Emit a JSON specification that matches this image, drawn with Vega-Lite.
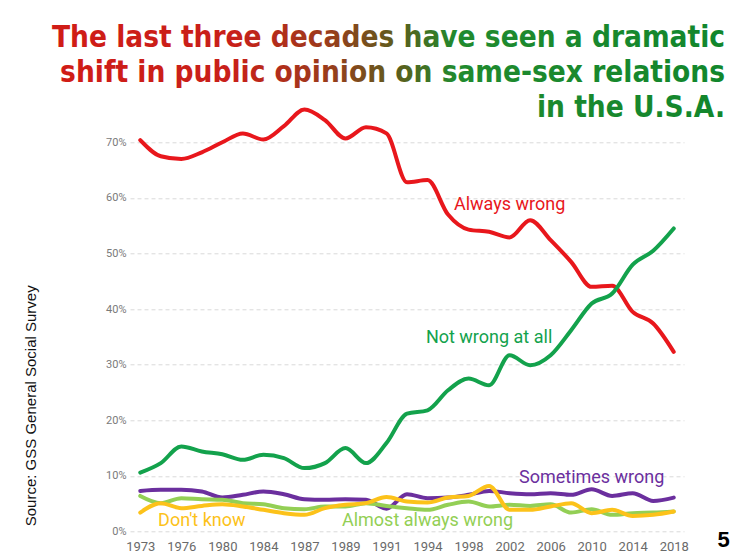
{
  "$schema": "https://vega.github.io/schema/vega-lite/v6.json",
  "autosize": "none",
  "width": 554,
  "height": 389.2,
  "padding": {"left": 130, "top": 142.3, "right": 67, "bottom": 28.5},
  "background": "white",
  "title": {
    "text": ["The last three decades have seen a dramatic", "shift in public opinion on same-sex relations", "in the U.S.A."],
    "anchor": "end",
    "align": "right",
    "frame": "group",
    "font": "Liberation Sans Narrow, DejaVu Sans Condensed, Roboto",
    "fontSize": 29.5,
    "fontWeight": "bold",
    "lineHeight": 35,
    "dx": 41,
    "dy": 36,
    "offset": 20,
    "color": "#1f8a2e",
    "encoding": {
      "fill": {"value": {"gradient": "linear", "x1": 0, "x2": 1, "y1": 0, "y2": 0, "stops": [
        {"offset": 0, "color": "#d01c16"},
        {"offset": 0.27, "color": "#c8201a"},
        {"offset": 0.41, "color": "#9a3c1c"},
        {"offset": 0.52, "color": "#58601e"},
        {"offset": 0.6, "color": "#218a2e"},
        {"offset": 1, "color": "#12862c"}
      ]}}
    }
  },
  "datasets": {
    "series": [
      {"year": 1973, "series": "Always wrong", "value": 70.4},
      {"year": 1974, "series": "Always wrong", "value": 67.5},
      {"year": 1976, "series": "Always wrong", "value": 67.0},
      {"year": 1977, "series": "Always wrong", "value": 68.2},
      {"year": 1980, "series": "Always wrong", "value": 70.0},
      {"year": 1982, "series": "Always wrong", "value": 71.6},
      {"year": 1984, "series": "Always wrong", "value": 70.5},
      {"year": 1985, "series": "Always wrong", "value": 72.9},
      {"year": 1987, "series": "Always wrong", "value": 75.9},
      {"year": 1988, "series": "Always wrong", "value": 74.0},
      {"year": 1989, "series": "Always wrong", "value": 70.7},
      {"year": 1990, "series": "Always wrong", "value": 72.7},
      {"year": 1991, "series": "Always wrong", "value": 71.6},
      {"year": 1993, "series": "Always wrong", "value": 62.8},
      {"year": 1994, "series": "Always wrong", "value": 63.2},
      {"year": 1996, "series": "Always wrong", "value": 57.0},
      {"year": 1998, "series": "Always wrong", "value": 54.3},
      {"year": 2000, "series": "Always wrong", "value": 53.9},
      {"year": 2002, "series": "Always wrong", "value": 52.9},
      {"year": 2004, "series": "Always wrong", "value": 56.0},
      {"year": 2006, "series": "Always wrong", "value": 52.4},
      {"year": 2008, "series": "Always wrong", "value": 48.5},
      {"year": 2010, "series": "Always wrong", "value": 44.0},
      {"year": 2012, "series": "Always wrong", "value": 44.2},
      {"year": 2014, "series": "Always wrong", "value": 39.5},
      {"year": 2016, "series": "Always wrong", "value": 37.4},
      {"year": 2018, "series": "Always wrong", "value": 32.3},
      {"year": 1973, "series": "Not wrong at all", "value": 10.6},
      {"year": 1974, "series": "Not wrong at all", "value": 12.3},
      {"year": 1976, "series": "Not wrong at all", "value": 15.3},
      {"year": 1977, "series": "Not wrong at all", "value": 14.4},
      {"year": 1980, "series": "Not wrong at all", "value": 13.9},
      {"year": 1982, "series": "Not wrong at all", "value": 12.9},
      {"year": 1984, "series": "Not wrong at all", "value": 13.8},
      {"year": 1985, "series": "Not wrong at all", "value": 13.2},
      {"year": 1987, "series": "Not wrong at all", "value": 11.4},
      {"year": 1988, "series": "Not wrong at all", "value": 12.3},
      {"year": 1989, "series": "Not wrong at all", "value": 15.0},
      {"year": 1990, "series": "Not wrong at all", "value": 12.3},
      {"year": 1991, "series": "Not wrong at all", "value": 15.9},
      {"year": 1993, "series": "Not wrong at all", "value": 21.2},
      {"year": 1994, "series": "Not wrong at all", "value": 21.8},
      {"year": 1996, "series": "Not wrong at all", "value": 25.4},
      {"year": 1998, "series": "Not wrong at all", "value": 27.5},
      {"year": 2000, "series": "Not wrong at all", "value": 26.3},
      {"year": 2002, "series": "Not wrong at all", "value": 31.7},
      {"year": 2004, "series": "Not wrong at all", "value": 29.9},
      {"year": 2006, "series": "Not wrong at all", "value": 31.7},
      {"year": 2008, "series": "Not wrong at all", "value": 36.2},
      {"year": 2010, "series": "Not wrong at all", "value": 41.0},
      {"year": 2012, "series": "Not wrong at all", "value": 42.8},
      {"year": 2014, "series": "Not wrong at all", "value": 48.0},
      {"year": 2016, "series": "Not wrong at all", "value": 50.5},
      {"year": 2018, "series": "Not wrong at all", "value": 54.5},
      {"year": 1973, "series": "Sometimes wrong", "value": 7.3},
      {"year": 1974, "series": "Sometimes wrong", "value": 7.5},
      {"year": 1976, "series": "Sometimes wrong", "value": 7.5},
      {"year": 1977, "series": "Sometimes wrong", "value": 7.2},
      {"year": 1980, "series": "Sometimes wrong", "value": 6.1},
      {"year": 1982, "series": "Sometimes wrong", "value": 6.6},
      {"year": 1984, "series": "Sometimes wrong", "value": 7.2},
      {"year": 1985, "series": "Sometimes wrong", "value": 6.7},
      {"year": 1987, "series": "Sometimes wrong", "value": 5.8},
      {"year": 1988, "series": "Sometimes wrong", "value": 5.7},
      {"year": 1989, "series": "Sometimes wrong", "value": 5.8},
      {"year": 1990, "series": "Sometimes wrong", "value": 5.7},
      {"year": 1991, "series": "Sometimes wrong", "value": 4.1},
      {"year": 1993, "series": "Sometimes wrong", "value": 6.7},
      {"year": 1994, "series": "Sometimes wrong", "value": 6.0},
      {"year": 1996, "series": "Sometimes wrong", "value": 6.1},
      {"year": 1998, "series": "Sometimes wrong", "value": 6.6},
      {"year": 2000, "series": "Sometimes wrong", "value": 7.3},
      {"year": 2002, "series": "Sometimes wrong", "value": 6.9},
      {"year": 2004, "series": "Sometimes wrong", "value": 6.7},
      {"year": 2006, "series": "Sometimes wrong", "value": 6.9},
      {"year": 2008, "series": "Sometimes wrong", "value": 6.6},
      {"year": 2010, "series": "Sometimes wrong", "value": 7.6},
      {"year": 2012, "series": "Sometimes wrong", "value": 6.4},
      {"year": 2014, "series": "Sometimes wrong", "value": 6.9},
      {"year": 2016, "series": "Sometimes wrong", "value": 5.5},
      {"year": 2018, "series": "Sometimes wrong", "value": 6.1},
      {"year": 1973, "series": "Almost always wrong", "value": 6.4},
      {"year": 1974, "series": "Almost always wrong", "value": 5.1},
      {"year": 1976, "series": "Almost always wrong", "value": 6.0},
      {"year": 1977, "series": "Almost always wrong", "value": 5.8},
      {"year": 1980, "series": "Almost always wrong", "value": 5.7},
      {"year": 1982, "series": "Almost always wrong", "value": 5.1},
      {"year": 1984, "series": "Almost always wrong", "value": 4.9},
      {"year": 1985, "series": "Almost always wrong", "value": 4.2},
      {"year": 1987, "series": "Almost always wrong", "value": 4.0},
      {"year": 1988, "series": "Almost always wrong", "value": 4.5},
      {"year": 1989, "series": "Almost always wrong", "value": 4.5},
      {"year": 1990, "series": "Almost always wrong", "value": 5.1},
      {"year": 1991, "series": "Almost always wrong", "value": 4.6},
      {"year": 1993, "series": "Almost always wrong", "value": 4.2},
      {"year": 1994, "series": "Almost always wrong", "value": 3.9},
      {"year": 1996, "series": "Almost always wrong", "value": 4.8},
      {"year": 1998, "series": "Almost always wrong", "value": 5.4},
      {"year": 2000, "series": "Almost always wrong", "value": 4.5},
      {"year": 2002, "series": "Almost always wrong", "value": 4.8},
      {"year": 2004, "series": "Almost always wrong", "value": 4.6},
      {"year": 2006, "series": "Almost always wrong", "value": 4.9},
      {"year": 2008, "series": "Almost always wrong", "value": 3.4},
      {"year": 2010, "series": "Almost always wrong", "value": 4.0},
      {"year": 2012, "series": "Almost always wrong", "value": 3.0},
      {"year": 2014, "series": "Almost always wrong", "value": 3.3},
      {"year": 2016, "series": "Almost always wrong", "value": 3.4},
      {"year": 2018, "series": "Almost always wrong", "value": 3.6},
      {"year": 1973, "series": "Don't know", "value": 3.4},
      {"year": 1974, "series": "Don't know", "value": 5.1},
      {"year": 1976, "series": "Don't know", "value": 4.2},
      {"year": 1977, "series": "Don't know", "value": 4.6},
      {"year": 1980, "series": "Don't know", "value": 4.9},
      {"year": 1982, "series": "Don't know", "value": 4.5},
      {"year": 1984, "series": "Don't know", "value": 3.9},
      {"year": 1985, "series": "Don't know", "value": 3.3},
      {"year": 1987, "series": "Don't know", "value": 3.0},
      {"year": 1988, "series": "Don't know", "value": 4.2},
      {"year": 1989, "series": "Don't know", "value": 4.8},
      {"year": 1990, "series": "Don't know", "value": 5.1},
      {"year": 1991, "series": "Don't know", "value": 6.2},
      {"year": 1993, "series": "Don't know", "value": 5.4},
      {"year": 1994, "series": "Don't know", "value": 5.2},
      {"year": 1996, "series": "Don't know", "value": 6.1},
      {"year": 1998, "series": "Don't know", "value": 6.4},
      {"year": 2000, "series": "Don't know", "value": 8.2},
      {"year": 2002, "series": "Don't know", "value": 3.9},
      {"year": 2004, "series": "Don't know", "value": 3.9},
      {"year": 2006, "series": "Don't know", "value": 4.5},
      {"year": 2008, "series": "Don't know", "value": 5.1},
      {"year": 2010, "series": "Don't know", "value": 3.3},
      {"year": 2012, "series": "Don't know", "value": 3.9},
      {"year": 2014, "series": "Don't know", "value": 2.8},
      {"year": 2016, "series": "Don't know", "value": 3.0},
      {"year": 2018, "series": "Don't know", "value": 3.6}
    ],
    "labels": [
      {"year": 2002, "series": "Always wrong", "value": 58.7},
      {"year": 2000, "series": "Not wrong at all", "value": 34.8},
      {"year": 2010, "series": "Sometimes wrong", "value": 9.6},
      {"year": 1994, "series": "Almost always wrong", "value": 1.9},
      {"year": 1977, "series": "Don't know", "value": 1.9}
    ]
  },
  "encoding": {
    "x": {
      "field": "year",
      "type": "ordinal",
      "sort": null,
      "scale": {"type": "point", "padding": 0.5, "domain": [1973,1974,1976,1977,1980,1982,1984,1985,1987,1988,1989,1990,1991,1993,1994,1996,1998,2000,2002,2004,2006,2008,2010,2012,2014,2016,2018]},
      "axis": {
        "values": [1973,1976,1980,1984,1987,1989,1991,1994,1998,2002,2006,2010,2014,2018],
        "labelAngle": 0,
        "labelFont": "Roboto",
        "labelFontSize": 13,
        "labelColor": "#6a6a6a",
        "labelPadding": 9,
        "domain": false,
        "ticks": false,
        "grid": false,
        "title": "5",
        "titleFont": "Liberation Sans",
        "titleFontSize": 22,
        "titleFontWeight": "bold",
        "titleColor": "#000000",
        "titleX": 593,
        "titleY": 7.5,
        "titleAngle": 0,
        "titleAlign": "center",
        "titleBaseline": "middle"
      }
    },
    "y": {
      "field": "value",
      "type": "quantitative",
      "scale": {"domain": [0, 70], "nice": false, "zero": true},
      "axis": {
        "values": [0, 10, 20, 30, 40, 50, 60, 70],
        "labelExpr": "datum.value + '%'",
        "labelFont": "Roboto",
        "labelFontSize": 11,
        "labelColor": "#7a7a7a",
        "labelPadding": 4,
        "domain": false,
        "ticks": false,
        "grid": true,
        "gridColor": "#d9d9d9",
        "gridDash": [4, 3],
        "gridWidth": 1,
        "title": "Source: GSS General Social Survey",
        "titleFont": "Liberation Sans",
        "titleFontSize": 15,
        "titleFontWeight": "normal",
        "titleColor": "#111111",
        "titleX": -100,
        "titleY": 263,
        "titleAngle": -90,
        "titleAlign": "center",
        "titleBaseline": "middle"
      }
    },
    "color": {
      "field": "series",
      "type": "nominal",
      "scale": {
        "domain": ["Always wrong", "Not wrong at all", "Sometimes wrong", "Almost always wrong", "Don't know"],
        "range": ["#e8171c", "#13a24c", "#6b2f9e", "#93cf55", "#fcc21a"]
      },
      "legend": null
    }
  },
  "layer": [
    {
      "data": {"name": "series"},
      "mark": {"type": "line", "interpolate": "monotone", "strokeWidth": 4, "strokeCap": "round", "strokeJoin": "round"}
    },
    {
      "data": {"name": "labels"},
      "mark": {"type": "text", "font": "Roboto", "fontSize": 18, "align": "center", "baseline": "middle"},
      "encoding": {"text": {"field": "series"}}
    }
  ],
  "config": {"view": {"stroke": null}}
}
